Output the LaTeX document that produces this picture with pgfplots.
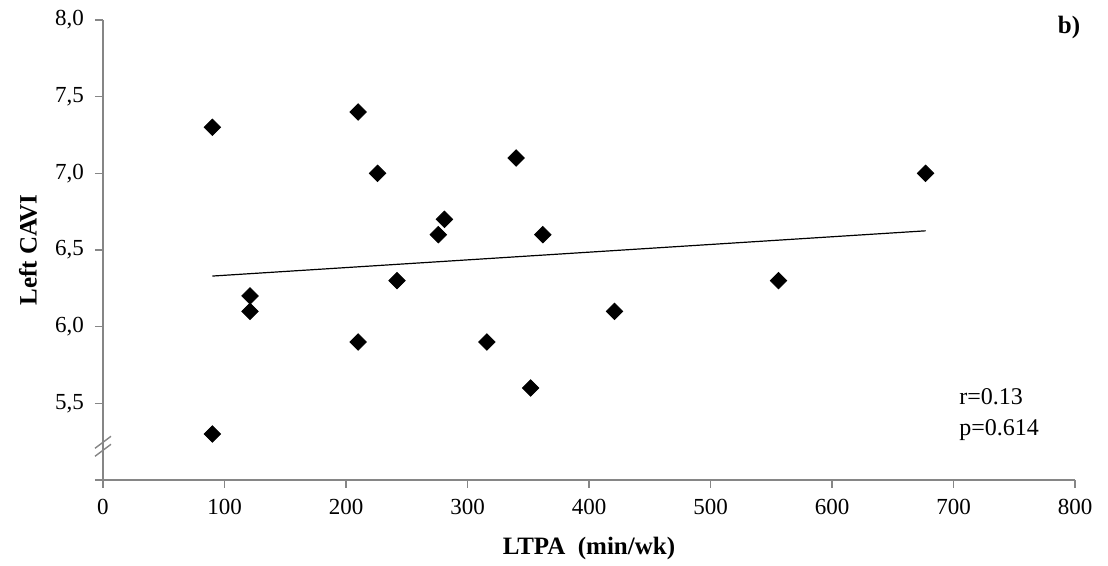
\documentclass[border=0pt]{standalone}
\usepackage{fontspec}
\setmainfont{Liberation Serif}
\usepackage{pgfplots}
\pgfplotsset{compat=1.18}
\definecolor{axGray}{RGB}{134,134,134}

\pgfplotstableread{
x y
90 7.3
90 5.3
121 6.2
121 6.1
210 7.4
210 5.9
226 7.0
242 6.3
276 6.6
281 6.7
316 5.9
340 7.1
352 5.6
362 6.6
421 6.1
556 6.3
677 7.0
}\cavidata

\begin{document}
\begin{tikzpicture}
\begin{axis}[
  scale only axis, width=486pt, height=230pt,
  xmin=0, xmax=800, ymin=5, ymax=8,
  xtick={0,100,...,800},
  ytick={5,5.5,6,6.5,7,7.5,8},
  yticklabels={{},{5,5},{6,0},{6,5},{7,0},{7,5},{8,0}},
  axis x line=bottom, axis y line=left,
  axis line style={draw=axGray, line width=0.8pt, -},
  tick style={draw=axGray, line width=0.8pt},
  tick align=outside, major tick length=4pt,
  /pgf/number format/assume math mode=true,
  tick label style={font=\fontsize{11.5}{13}\selectfont, text=black},
  yticklabel style={xshift=-2pt},
  xticklabel style={yshift=-2pt},
  xlabel={LTPA\ \ (min/wk)}, ylabel={Left CAVI},
  label style={font=\bfseries\fontsize{12.5}{14}\selectfont},
  xlabel style={at={([yshift=-34pt]axis description cs:0.5,0)}, anchor=center},
  ylabel style={at={([xshift=-37.5pt]axis description cs:0,0.5)}, anchor=center},
  clip=false,
]
\addplot[only marks, mark=square*, mark size=2.9pt, mark options={rotate=45, fill=black, draw=black}]
  table[x=x, y=y] {\cavidata};
\addplot[black, line width=0.6pt, no marks] coordinates {(90,6.33) (677,6.625)};
\draw[axGray, line width=0.7pt] ([xshift=-4pt, yshift=-1pt]axis cs:0,5.22) -- ([xshift=4pt, yshift=5pt]axis cs:0,5.22);
\draw[axGray, line width=0.7pt] ([xshift=-4pt, yshift=-5pt]axis cs:0,5.22) -- ([xshift=4pt, yshift=1pt]axis cs:0,5.22);
\node[anchor=base west, font=\fontsize{12}{14}\selectfont] at (axis cs:699,5.49) {r=0.13};
\node[anchor=base west, font=\fontsize{12}{14}\selectfont] at (axis cs:699,5.29) {p=0.614};
\node[anchor=base east, font=\bfseries\fontsize{12.5}{14}\selectfont] at (axis cs:810,7.91) {b)};
% page margins as in the reference
\path ([xshift=-51.5pt, yshift=-41.5pt]rel axis cs:0,0) rectangle ([xshift=16.5pt, yshift=10pt]rel axis cs:1,1);
\end{axis}
\end{tikzpicture}
\end{document}
